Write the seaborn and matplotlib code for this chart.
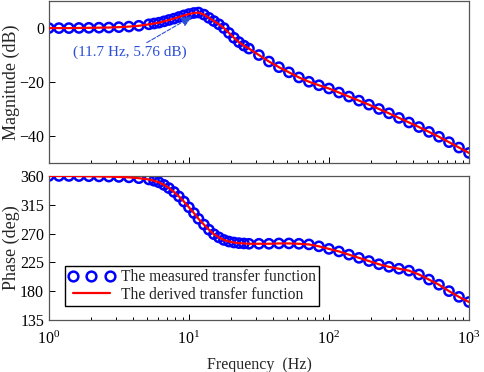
#!/usr/bin/env python

import matplotlib.pyplot as plt
import pandas as pd
import seaborn as sns
from matplotlib.lines import Line2D

# measured points (Hz)
freq = [1.00, 1.18, 1.39, 1.64, 1.93, 2.28, 2.68, 3.16, 3.73, 4.39,
        5.18, 5.64, 6.11, 6.64, 7.20, 7.82, 8.48, 9.21, 10.0, 10.86,
        11.7, 12.80, 13.89, 15.08, 16.38, 17.78, 19.31, 20.96, 22.76, 24.7,
        26.83, 31.62, 37.28, 43.94, 51.79, 61.05, 71.97, 84.83, 100.0, 117.9,
        139.0, 163.8, 193.1, 227.6, 268.3, 316.2, 372.8, 439.4, 517.9, 610.5,
        719.7, 848.3, 1000.0]

mag_db = [0.0, 0.0, 0.0, 0.05, 0.1, 0.15, 0.2, 0.35, 0.55, 0.85,
          1.4, 1.7, 2.0, 2.5, 3.0, 3.5, 4.1, 4.7, 5.2, 5.6,
          5.76, 5.0, 3.8, 2.6, 1.4, 0.0, -1.8, -3.6, -5.2, -6.5,
          -7.6, -10.0, -12.4, -14.5, -16.4, -18.3, -19.9, -21.2, -22.4, -23.9,
          -25.4, -26.9, -28.4, -30.0, -31.6, -33.3, -35.0, -36.7, -38.5, -40.3,
          -42.3, -44.3, -46.3]

phase_deg = [360, 360, 360, 359.8, 359.6, 359.3, 359.0, 358.5, 357.8, 356.5,
             354.5, 352.5, 350, 346, 341, 335, 328, 320, 311, 302,
             293, 284, 276, 269, 264, 260, 257.5, 256, 255, 254.5,
             254, 254, 254, 254.5, 254.5, 254, 253, 250, 246, 242,
             237, 232, 227, 222, 218, 215, 212, 206, 198, 190,
             180, 171, 163]

peak_f = 11.7
peak_db = 5.76

df = pd.DataFrame({"f": freq, "mag": mag_db, "phase": phase_deg})

sns.set_style("ticks")
plt.rcParams["font.family"] = ["Liberation Serif", "DejaVu Serif"]
plt.rcParams["mathtext.fontset"] = "stix"
plt.rcParams["xtick.direction"] = "in"
plt.rcParams["ytick.direction"] = "in"

fig = plt.figure(figsize=(4.84, 3.72), dpi=100)
ax1 = fig.add_axes([0.101, 0.562, 0.868, 0.435])
ax2 = fig.add_axes([0.101, 0.140, 0.868, 0.387])

for ax, col in [(ax1, "mag"), (ax2, "phase")]:
    sns.scatterplot(data=df, x="f", y=col, ax=ax, marker="o", s=44,
                    facecolor="none", edgecolor="blue", linewidth=1.8,
                    legend=False, zorder=2)
    sns.lineplot(data=df, x="f", y=col, ax=ax, color="red", linewidth=1.6,
                 legend=False, zorder=3)
    ax.set_xscale("log")
    ax.set_xlim(1, 1000)
    ax.set_xlabel("")
    for s in ax.spines.values():
        s.set_color("#555555")
        s.set_linewidth(0.9)
        s.set_visible(True)
    ax.tick_params(which="both", labelsize=11.5, colors="black", width=0.7)
    ax.tick_params(which="major", length=4)
    ax.tick_params(which="minor", length=2.5)
    ax.tick_params(axis="x", pad=8)

ax1.set_ylim(-50, 10)
ax1.set_yticks([0, -20, -40])
ax1.set_xticklabels([])
ax1.set_ylabel("Magnitude (dB)", fontsize=13)
ax1.yaxis.set_label_coords(-0.068, 0.5)
ax1.text(3.8, -9.1, "(11.7 Hz, 5.76 dB)", color="#2a4fd6", fontsize=11,
         ha="center", va="center")
ax1.annotate("", xy=(10.6, 4.4), xytext=(5.0, -5.4), zorder=5,
             arrowprops=dict(arrowstyle="-|>,head_length=0.7,head_width=0.3",
                             color="#2a4fd6", ls="--", lw=0.8,
                             shrinkA=0, shrinkB=0))

ax2.set_ylim(135, 360)
ax2.set_yticks([135, 180, 225, 270, 315, 360])
ax2.set_ylabel("Phase (deg)", fontsize=13)
ax2.yaxis.set_label_coords(-0.068, 0.5)
ax2.set_xlabel("Frequency  (Hz)", fontsize=11.5, labelpad=6)

handles = [Line2D([], [], marker="o", ls="none", markersize=7,
                  markerfacecolor="none", markeredgecolor="blue",
                  markeredgewidth=1.8),
           Line2D([], [], color="red", lw=1.6)]
labels = ["The measured transfer function", "The derived transfer function"]
leg = ax2.legend(handles, labels, loc="lower left",
                 bbox_to_anchor=(0.038, 0.097), numpoints=3,
                 fancybox=False, edgecolor="black", framealpha=1,
                 fontsize=11.2, borderpad=0.2, labelspacing=0.1,
                 handletextpad=0.4, handlelength=3.0, borderaxespad=0)
leg.get_frame().set_linewidth(1.0)

plt.savefig("out.png", dpi=100)
